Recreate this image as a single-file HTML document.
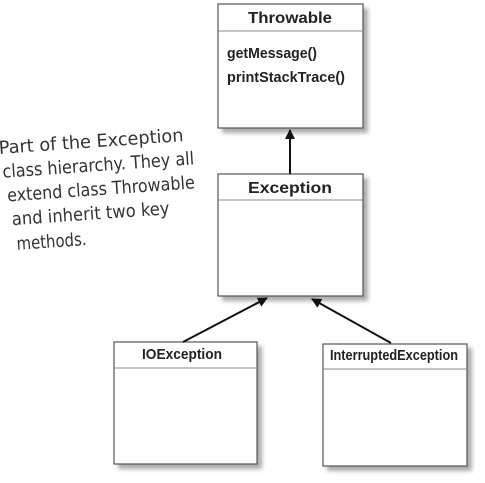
<!DOCTYPE html>
<html><head><meta charset="utf-8"><style>
html,body{margin:0;padding:0;background:#fff;width:485px;height:483px;overflow:hidden}
svg{display:block}
.h{font-family:"Liberation Sans",sans-serif;font-weight:bold;font-size:16px;fill:#222}
.m{font-family:"Liberation Sans",sans-serif;font-weight:bold;font-size:15px;fill:#222}
.hw{font-family:"DejaVu Sans",sans-serif;font-size:18px;fill:#333}
</style></head><body>
<svg width="485" height="483" viewBox="0 0 485 483" xmlns="http://www.w3.org/2000/svg">
<defs>
<filter id="sh" x="-10%" y="-10%" width="130%" height="130%">
<feGaussianBlur stdDeviation="2"/>
</filter>
<marker id="ar" markerWidth="10" markerHeight="10" refX="9" refY="5" orient="auto" markerUnits="userSpaceOnUse">
<path d="M0,0 L10,5 L0,10 z" fill="#111"/>
</marker>
</defs>
<g fill="#888" opacity="0.7" filter="url(#sh)">
<rect x="222" y="8" width="146" height="125"/>
<rect x="222" y="178" width="146" height="123"/>
<rect x="118" y="346" width="144" height="123"/>
<rect x="327" y="348" width="145" height="123"/>
</g>
<g fill="#fff" stroke="#555" stroke-width="1.2">
<rect x="218" y="4" width="145" height="124"/>
<rect x="218" y="174" width="145" height="122"/>
<rect x="114" y="342" width="143" height="122"/>
<rect x="323" y="344" width="144" height="122"/>
</g>
<g stroke="#888" stroke-width="1">
<line x1="218" y1="31" x2="363" y2="31"/>
<line x1="218" y1="200" x2="363" y2="200"/>
<line x1="114" y1="368" x2="257" y2="368"/>
<line x1="323" y1="369" x2="467" y2="369"/>
</g>
<text class="h" x="290" y="23" text-anchor="middle" textLength="84" lengthAdjust="spacingAndGlyphs">Throwable</text>
<text class="m" x="227" y="58" textLength="90" lengthAdjust="spacingAndGlyphs">getMessage()</text>
<text class="m" x="227" y="82" textLength="118" lengthAdjust="spacingAndGlyphs">printStackTrace()</text>
<text class="h" x="290" y="193" text-anchor="middle" textLength="84" lengthAdjust="spacingAndGlyphs">Exception</text>
<text class="m" x="182" y="359" text-anchor="middle" textLength="80" lengthAdjust="spacingAndGlyphs">IOException</text>
<text class="m" x="394" y="360" text-anchor="middle" textLength="128" lengthAdjust="spacingAndGlyphs">InterruptedException</text>
<g stroke="#111" stroke-width="2" fill="none">
<line x1="290" y1="174" x2="290" y2="130" marker-end="url(#ar)"/>
<line x1="183" y1="342" x2="267" y2="298" marker-end="url(#ar)"/>
<line x1="391" y1="343" x2="312" y2="299" marker-end="url(#ar)"/>
</g>
<g transform="rotate(-4 100 190)">
<text class="hw" x="2" y="147" textLength="185" lengthAdjust="spacingAndGlyphs">Part of the Exception</text>
<text class="hw" x="4" y="171" textLength="192" lengthAdjust="spacingAndGlyphs">class hierarchy. They all</text>
<text class="hw" x="7" y="195" textLength="188" lengthAdjust="spacingAndGlyphs">extend class Throwable</text>
<text class="hw" x="10" y="219" textLength="158" lengthAdjust="spacingAndGlyphs">and inherit two key</text>
<text class="hw" x="13" y="244" textLength="70" lengthAdjust="spacingAndGlyphs">methods.</text>
</g>
</svg>
</body></html>
